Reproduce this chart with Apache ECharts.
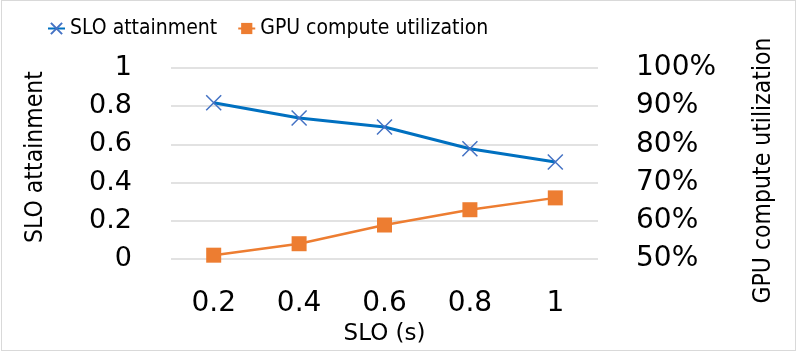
<!DOCTYPE html>
<html>
<head>
<meta charset="utf-8">
<script src="https://cdn.jsdelivr.net/npm/echarts@6/dist/echarts.min.js"></script>
<style>
  body { margin: 0; background: #fff; }
  #wrap { position: relative; width: 797px; height: 361px; }
  #chart { width: 797px; height: 361px; }
  #frame { position: absolute; left: 1px; top: 0px; width: 793px; height: 349px;
           border: 1px solid #d9d9d9; pointer-events: none; }
</style>
</head>
<body>
<div id="wrap">
  <div id="chart"></div>
  <div id="frame"></div>
</div>
<script>
const sloValues = ["0.2", "0.4", "0.6", "0.8", "1"];
const sloAttainment = [0.818, 0.738, 0.691, 0.577, 0.508];
const gpuUtilization = [51, 54, 58.9, 62.9, 66];

const narrow = "DejaVu Sans Condensed, DejaVu Sans, sans-serif";
const wide = "DejaVu Sans, Verdana, sans-serif";

let myChart = echarts.init(document.getElementById("chart"));
myChart.setOption({
  animation: false,
  legend: {
    top: 13,
    left: 42,
    itemWidth: 17,
    itemHeight: 14,
    itemGap: 20,
    textStyle: { fontFamily: narrow, fontSize: 21, color: "#000" },
    data: ["SLO attainment", "GPU compute utilization"],
  },
  grid: { left: 171, right: 199, top: 68, bottom: 102 },
  xAxis: {
    type: "category",
    data: sloValues,
    axisLine: { show: false },
    axisTick: { show: false },
    axisLabel: { fontFamily: wide, fontSize: 28, color: "#000", margin: 31 },
    name: "SLO (s)",
    nameLocation: "middle",
    nameGap: 52,
    nameTextStyle: { fontFamily: wide, fontSize: 23, color: "#000" },
  },
  yAxis: [
    {
      type: "value",
      min: 0,
      max: 1,
      interval: 0.2,
      axisLabel: { fontFamily: wide, fontSize: 27, color: "#000", margin: 39 },
      splitLine: { lineStyle: { color: "#d9d9d9", width: 1.5 } },
      name: "SLO attainment",
      nameLocation: "middle",
      nameGap: 123,
      nameTextStyle: { fontFamily: narrow, fontSize: 24.5, color: "#000", padding: [0, 0, 0, 13] },
    },
    {
      type: "value",
      min: 50,
      max: 100,
      interval: 10,
      position: "right",
      axisLabel: { fontFamily: wide, fontSize: 28, color: "#000", margin: 38, formatter: "{value}%" },
      splitLine: { show: false },
      name: "GPU compute utilization",
      nameLocation: "middle",
      nameGap: 153,
      nameTextStyle: { fontFamily: narrow, fontSize: 24.5, color: "#000", padding: [0, 14, 0, 0] },
    },
  ],
  series: [
    {
      name: "SLO attainment",
      type: "line",
      data: sloAttainment,
      color: "#0070C0",
      lineStyle: { color: "#0070C0", width: 3 },
      symbol: "path://M0,0L10,10M10,0L0,10",
      symbolSize: 15,
      itemStyle: { color: "#4472C4", borderColor: "#4472C4", borderWidth: 1.5 },
    },
    {
      name: "GPU compute utilization",
      type: "line",
      yAxisIndex: 1,
      data: gpuUtilization,
      color: "#ED7D31",
      lineStyle: { color: "#ED7D31", width: 2.5 },
      itemStyle: { color: "#ED7D31" },
      symbol: "rect",
      symbolSize: 15,
    },
  ],
});
</script>
</body>
</html>
